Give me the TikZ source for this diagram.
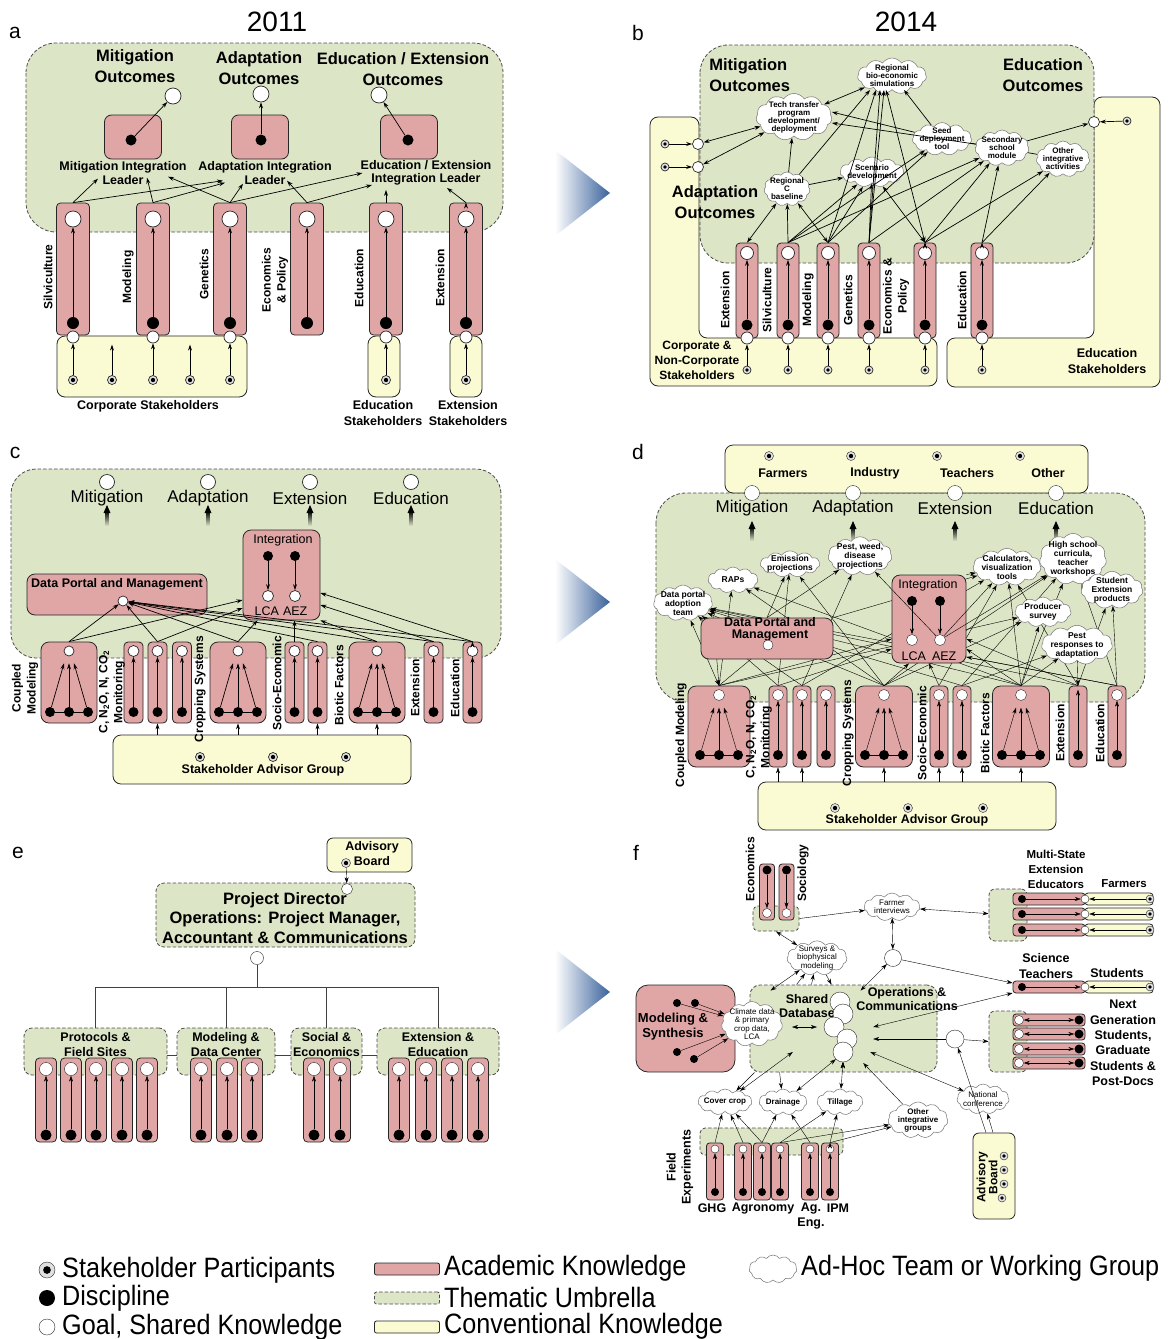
\documentclass[tikz,border=0pt]{standalone}
\usepackage{fontspec}
\setmainfont{Liberation Sans}
\newfontfamily\legfont[FakeStretch=0.9]{Liberation Sans}
\usetikzlibrary{arrows.meta, shapes.symbols, calc}
\pgfdeclarelayer{back}
\pgfdeclarelayer{mid}
\pgfsetlayers{back,mid,main}
\definecolor{acad}{RGB}{224,166,166}
\definecolor{umb}{RGB}{221,229,199}
\definecolor{conv}{RGB}{251,251,211}
\definecolor{chev}{RGB}{58,98,156}
\tikzset{> = {Stealth[length=6pt, width=4pt]}}
\tikzset{
  umbrella/.style={draw=black!70, dash pattern=on 3.5pt off 2pt, fill=umb, line width=0.8pt, inner sep=0, rounded corners=#1},
  umbrella/.default=8,
  academic/.style={draw=black!85, fill=acad, line width=0.8pt, inner sep=0, rounded corners=#1},
  academic/.default=4,
  convbox/.style={draw=black!85, fill=conv, line width=0.8pt, inner sep=0, rounded corners=#1},
  convbox/.default=8,
  goal/.style={circle, draw=black!85, fill=white, inner sep=0, minimum size=#1},
  goal/.default=15,
  disc/.style={circle, fill=black, inner sep=0, minimum size=#1},
  disc/.default=10,
  stake/.style={circle, draw=black!85, fill=black!12, inner sep=0, minimum size=#1,
    path picture={\fill[black] (path picture bounding box.center) circle[radius=0.24*#1pt];}},
  stake/.default=9,
  adhoc/.style={cloud, cloud puffs=11, cloud puff arc=110, cloud ignores aspect, draw=black!55, fill=white,
    line width=0.5pt, inner sep=-2pt, align=center, font=\fontsize{8}{8}\selectfont\bfseries},
  adhocr/.style={font=\fontsize{8}{8.3}\selectfont},
  adhocd/.style={font=\fontsize{8.5}{9}\selectfont\bfseries},
  plab/.style={inner sep=0, font=\fontsize{21}{24}\selectfont},
  year/.style={inner sep=0, font=\fontsize{28}{32}\selectfont},
  lblL/.style={inner sep=0, align=center, font=\fontsize{16.5}{20.5}\selectfont\bfseries},
  lblE/.style={inner sep=0, align=center, font=\fontsize{16.5}{19.5}\selectfont\bfseries},
  lblM/.style={inner sep=0, align=center, font=\fontsize{12.5}{13.5}\selectfont\bfseries},
  lblS/.style={inner sep=0, align=center, font=\fontsize{12}{15}\selectfont\bfseries},
  lblN/.style={inner sep=0, align=center, font=\fontsize{12.5}{15.4}\selectfont\bfseries},
  lblR/.style={inner sep=0, align=center, font=\fontsize{17}{20}\selectfont},
  lblI/.style={inner sep=0, align=center, font=\fontsize{12.5}{14}\selectfont},
  legtxt/.style={inner sep=0, anchor=west, font=\legfont\fontsize{28}{30}\selectfont},
}

\begin{document}
\begin{tikzpicture}[x=1pt, y=-1pt, line width=0.7pt]
\useasboundingbox (0,0) rectangle (1170,1339);

% panel letters
\node[plab] (la) at (15,33) {a};
\node[plab] (lb) at (638,33) {b};
\node[plab] (lc) at (15,453) {c};
\node[plab] (ld) at (638,452) {d};
\node[plab] (le) at (18,853) {e};
\node[plab] (lf) at (636,853) {f};
\node[year] (y11) at (277,22) {2011};
\node[year] (y14) at (906,22) {2014};

% ================= a: 2011
\draw[umbrella=30] (26,43) rectangle (503,232);
\node[convbox, minimum width=190, minimum height=61] (acs) at (152,366.5) {};
\node[convbox, minimum width=32, minimum height=61] (aes) at (384,366.5) {};
\node[convbox, minimum width=32, minimum height=61] (axs) at (466,366.5) {};
% outcomes and leaders
\node[lblL] (amt) at (135,66) {Mitigation\\Outcomes};
\node[lblL] (aat) at (259,68) {Adaptation\\Outcomes};
\node[lblL] (aet) at (403,69) {Education / Extension\\Outcomes};
\foreach \n/\x/\y/\bx/\dx in {m/173/96/133/131, a/261/94/260/261, e/379/95/409/408} {
  \node[goal=16] (ao\n) at (\x,\y) {};
  \node[academic=7, minimum width=57, minimum height=44] (ab\n) at (\bx,137) {};
  \node[disc=11] (ad\n) at (\dx,140) {};
  \draw[->] (ad\n) -- (ao\n);
}
\node[lblM] (alm) at (123,173) {Mitigation Integration\\Leader};
\node[lblM] (ala) at (265,173) {Adaptation Integration\\Leader};
\node[lblM] (ale) at (426,173) {Education / Extension\\Integration Leader};
% disciplines
\foreach \n/\x in {1/73,2/153,3/230,4/307,5/386,6/466} {
  \node[academic, minimum width=33, minimum height=132] (ac\n) at (\x,269) {};
  \node[goal=16] (act\n) at (\x,219) {};
  \node[disc=12] (acd\n) at (\x,323) {};
  \draw[->] (acd\n) -- (act\n);
}
\foreach \n/\x in {1/73,2/153,3/230,5/386,6/466} {
  \node[goal=12] (acb\n) at (\x,337) {};
  \node[stake] (as\n) at (\x,380) {};
  \draw[->] (as\n) -- (acb\n);
}
\foreach \n/\x in {7/112,8/190} {
  \node[stake] (as\n) at (\x,380) {};
  \draw[->] (as\n) -- ($(as\n |- acs.north)+(0,9)$);
}
\node[lblS, rotate=90] at (48,277) {Silviculture};
\node[lblS, rotate=90] at (128,277) {Modeling};
\node[lblS, rotate=90] at (204,274) {Genetics};
\node[lblS, rotate=90] at (275,280) {Economics\\\& Policy};
\node[lblS, rotate=90] at (359,278) {Education};
\node[lblS, rotate=90] at (440,278) {Extension};
\node[lblM] at (148,406) {Corporate Stakeholders};
\node[lblN] at (383,413) {Education\\Stakeholders};
\node[lblN] at (468,413) {Extension\\Stakeholders};
% edges
\draw[->]
(ac1.north) edge ([xshift=-25pt,yshift=6pt]alm.south)
(ac1.north) edge ([xshift=-42pt,yshift=4pt]ala.south)
(ac2.north) edge ([xshift=24pt,yshift=7pt]alm.south)
(ac2.north) edge ([xshift=-40pt,yshift=2pt]ala.south)
(ac3.north) edge ([xshift=45pt,yshift=8pt]alm.south)
(ac3.north) edge ([xshift=-22pt,yshift=1pt]ala.south)
(ac3.north) edge ([xshift=2pt]ale.west)
(ac4.north) edge ([xshift=22pt,yshift=4pt]ala.south)
(ac4.north) edge ([xshift=-54pt,yshift=1pt]ale.south)
(ac5.north) edge ([xshift=-40pt,yshift=-4pt]ale.south)
(ac6.north) edge ([xshift=21pt,yshift=-2pt]ale.south);

% ================= b: 2014
\draw[convbox] (699,338) -- (699,117) -- (650,117) -- (650,386) -- (937,386) -- (937,338) -- cycle;
\draw[convbox] (1094,338) -- (947,338) -- (947,387) -- (1160,387) -- (1160,97) -- (1094,97) -- cycle;
\draw[umbrella=28] (700,45) rectangle (1094,263);
\node[lblL, align=left, anchor=west] (bmt) at (709,75) {Mitigation\\Outcomes};
\node[lblL] (bat) at (715,202) {Adaptation\\Outcomes};
\node[lblL] (bet) at (1043,75) {Education\\Outcomes};
\foreach \n/\y in {1/144,2/167} {
  \node[goal=11] (bin\n) at (698,\y) {};
  \node[stake=8] (bis\n) at (665,\y) {};
  \draw[->] (bis\n) -- (bin\n);
}
\node[goal=11] (bin3) at (1094,122) {};
\node[stake=8] (bis3) at (1127,121) {};
\draw[->] (bis3) -- (bin3);
% working groups
\node[adhoc, minimum width=66, minimum height=36] (bbio) at (892,76) {Regional\\bio-economic\\simulations};
\node[adhoc, minimum width=76, minimum height=42] (btech) at (794,117) {Tech transfer\\program\\development/\\deployment};
\node[adhoc, minimum width=46, minimum height=34] (bcb) at (787,189) {Regional\\C\\baseline};
\node[adhoc, minimum width=58, minimum height=30] (bscen) at (872,172) {Scenario\\development};
\node[adhoc, minimum width=52, minimum height=30] (bseed) at (942,139) {Seed\\deployment\\tool};
\node[adhoc, minimum width=54, minimum height=36] (bsec) at (1002,148) {Secondary\\school\\module};
\node[adhoc, minimum width=52, minimum height=36] (both) at (1063,159) {Other\\integrative\\activities};
% disciplines
\foreach \n/\x in {1/747,2/788,3/828,4/869,5/925,6/982} {
  \node[academic, minimum width=22, minimum height=95] (bc\n) at (\x,290.5) {};
  \node[goal=13] (bct\n) at (\x,253) {};
  \node[disc=11] (bcd\n) at (\x,325) {};
  \node[goal=12] (bcb\n) at (\x,338) {};
  \node[stake=8] (bs\n) at (\x,370) {};
  \draw[->] (bcd\n) -- (bct\n);
  \draw[->] (bs\n) -- (bcb\n);
}
\node[lblS, rotate=90] at (725,300) {Extension};
\node[lblS, rotate=90] at (767,300) {Silviculture};
\node[lblS, rotate=90] at (808,300) {Modeling};
\node[lblS, rotate=90] at (848,300) {Genetics};
\node[lblS, rotate=90] at (896,296) {Economics \&\\Policy};
\node[lblS, rotate=90] at (962,300) {Education};
\node[lblS] at (697,360) {Corporate \&\\Non-Corporate\\Stakeholders};
\node[lblN] at (1107,361) {Education\\Stakeholders};
% edges
\draw[<->]
(bin1) edge (btech)
(bin2) edge (btech)
(btech) edge (bbio)
(bc1.north) edge (bcb)
(bc3.north) edge (bcb)
(bc5.north) edge (bscen)
(bc5.north) edge ([xshift=-6pt]bbio.south);
\draw[->]
(bcb) edge (btech)
(bcb) edge (bscen)
(bcb) edge ([xshift=-22pt]bbio.south)
(bc2.north) edge (bcb)
(bc2.north) edge (bscen)
(bc2.north) edge (bseed)
(bc2.north) edge (bsec)
(bc3.north) edge ([xshift=-16pt]bbio.south)
(bc3.north) edge (bscen)
(bc3.north) edge (bseed)
(bc4.north) edge ([xshift=-12pt]bbio.south)
(bc4.north) edge ([xshift=-8pt]bbio.south)
(bc4.north) edge (bscen)
(bc4.north) edge (bsec)
(bc5.north) edge (bsec)
(bc5.north) edge (both)
(bc6.north) edge (bsec)
(bc6.north) edge (both)
(bseed) edge ([xshift=12pt]bbio.south)
(bseed) edge ([yshift=5pt]btech.east)
(bsec) edge ([yshift=-6pt]btech.east)
(bsec) edge (bin3);
\draw (bseed) -- (bsec) (bsec) -- (both);

% ================= c
\draw[umbrella=25] (11,469) rectangle (501,658);
\foreach \n/\x/\t in {1/107/Mitigation, 2/208/Adaptation, 3/310/Extension, 4/411/Education} {
  \node[goal=15] (cg\n) at (\x,482) {};
  \node[lblR] (cgl\n) at (\x,498) {\t};
  \shade[top color=black, bottom color=umb] (\x-1.5,511) rectangle (\x+1.5,526);
  \fill (\x-3.5,513) -- (\x,505) -- (\x+3.5,513) -- cycle;
}
\node[academic=8, minimum width=77, minimum height=90] (cint) at (281.5,575) {};
\node[lblI] (cintl) at (283,540) {Integration};
\foreach \n/\x in {1/268,2/295} {
  \node[disc] (cid\n) at (\x,556) {};
  \node[goal=11] (cic\n) at (\x,596) {};
  \draw[->] (cid\n) -- (cic\n);
}
\node[lblI] (cil) at (281,611) {LCA\hspace{4pt}AEZ};
\node[academic=8, minimum width=180, minimum height=41] (cdp) at (117,594.5) {};
\node[lblM] (cdpl) at (117,584) {Data Portal and Management};
\node[goal=10] (cdpc) at (123,601) {};
\node[convbox, minimum width=298, minimum height=49] (csag) at (262,759.5) {};
\foreach \n/\x in {1/200,2/273,3/346} \node[stake] (csd\n) at (\x,757) {};
\node[lblM] (csagl) at (263,770) {Stakeholder Advisor Group};
% disciplines
\foreach \n/\x in {1/69,5/238,8/377} {
  \node[academic=8, minimum width=56, minimum height=81] (cc\n) at (\x,682.5) {};
  \node[goal=10] (cct\n) at (\x,651) {};
  \node[disc] (ccl\n) at (\x-19,712) {};
  \node[disc] (ccm\n) at (\x,712) {};
  \node[disc] (ccr\n) at (\x+19,712) {};
  \draw (ccl\n) -- (ccr\n);
  \draw[->] (ccl\n) -- ([xshift=-5pt,yshift=-7pt]cct\n.south);
  \draw[->] (ccm\n) -- ([yshift=-7pt]cct\n.south);
  \draw[->] (ccr\n) -- ([xshift=5pt,yshift=-7pt]cct\n.south);
}
\foreach \n/\x in {2/133.5,3/157.5,4/182,6/294.5,7/317.5,9/433.5,10/472.5} {
  \node[academic, minimum width=19, minimum height=81] (cc\n) at (\x,682.5) {};
  \node[goal=11] (cct\n) at (\x,651) {};
  \node[disc] (ccd\n) at (\x,712) {};
  \draw[->] (ccd\n) -- (cct\n);
}
\node[lblS, rotate=90] at (25,688) {Coupled\\Modeling};
\node[lblS, rotate=90] at (112,692) {C, N\textsubscript{2}O, N, CO\textsubscript{2}\\Monitoring};
\node[lblS, rotate=90] at (200,689) {Cropping Systems};
\node[lblS, rotate=90] at (277,683) {Socio-Economic};
\node[lblS, rotate=90] at (339,685) {Biotic Factors};
\node[lblS, rotate=90] at (415,688) {Extension};
\node[lblS, rotate=90] at (455,688) {Education};
\foreach \n in {3,5,7,8} \draw[->] (csag.north -| cc\n.south) -- (cc\n.south);
% edges
\draw[->]
(cc1.north) edge (cdpc)
(cc1.north) edge ([yshift=-25pt]cint.west)
(cc3.north) edge (cdpc)
(cc3.north) edge ([yshift=-33pt]cint.west)
(cc5.north) edge (cdpc)
(cc5.north) edge ([xshift=-24pt]cint.south)
(cc6.north) edge ([xshift=13pt]cint.south)
(cc7.north) edge (cdpc)
(cc8.north) edge (cdpc)
(cc8.north) edge (cint.south east)
(cc9.north) edge (cdpc)
(cc9.north) edge ([yshift=-30pt]cint.east)
(cc10.north) edge (cdpc)
(cc10.north) edge ([yshift=-18pt]cint.east);

% ================= d
\begin{pgfonlayer}{back}
\draw[umbrella=30] (656,493) rectangle (1145,702);
\end{pgfonlayer}
\node[convbox, minimum width=363, minimum height=48] (dtop) at (906.5,469) {};
\foreach \n/\x/\sx/\lx/\s/\t in {1/752/769/783/Farmers/Mitigation, 2/853/851/875/Industry/Adaptation, 3/955/937/967/Teachers/Extension, 4/1056/1020/1048/Other/Education} {
  \node[stake] (dsk\n) at (\sx,456) {};
  \node[lblM] (dskl\n) at (\lx,473) {\s};
  \node[goal=15] (dg\n) at (\x,493) {};
  \node[lblR] (dgl\n) at (\x,508) {\t};
  \shade[top color=black, bottom color=umb] (\x-1.5,527) rectangle (\x+1.5,541);
  \fill (\x-3.5,529) -- (\x,521) -- (\x+3.5,529) -- cycle;
}
\node[academic=8, minimum width=74, minimum height=88] (dint) at (929,619) {};
\node[lblI] (dintl) at (928,585) {Integration};
\foreach \n/\x in {1/912,2/940} {
  \node[disc] (did\n) at (\x,601) {};
  \node[goal=11] (dic\n) at (\x,640) {};
  \draw[->] (did\n) -- (dic\n);
}
\node[lblI] (dil) at (929,656) {LCA\hspace{6pt}AEZ};
\node[academic=8, minimum width=132, minimum height=41] (ddp) at (767,638.5) {};
\node[lblM, font=\fontsize{12.5}{12}\selectfont\bfseries] (ddpl) at (770,629) {Data Portal and\\Management};
\node[goal=10] (ddpc) at (768,645) {};
% working groups
\node[adhoc, adhocd, minimum width=54, minimum height=30] (dcdp) at (683,603) {Data portal\\adoption\\team};
\node[adhoc, adhocd, minimum width=50, minimum height=26] (draps) at (733,580) {RAPs};
\node[adhoc, adhocd, minimum width=52, minimum height=26] (demis) at (790,564) {Emission\\projections};
\node[adhoc, adhocd, minimum width=64, minimum height=38] (dpest) at (860,556) {Pest, weed,\\disease\\projections};
\node[adhoc, adhocd, minimum width=60, minimum height=36] (dcalc) at (1007,567) {Calculators,\\visualization\\tools};
\node[adhoc, adhocd, minimum width=52, minimum height=40] (dhs) at (1073,559) {High school\\curricula,\\teacher\\workshops};
\node[adhoc, adhocd, minimum width=62, minimum height=30] (dsep) at (1112,590) {Student\\Extension\\products};
\node[adhoc, adhocd, minimum width=56, minimum height=30] (dprod) at (1043,612) {Producer\\survey};
\node[adhoc, adhocd, minimum width=54, minimum height=30] (dpresp) at (1077,645) {Pest\\responses to\\adaptation};
\node[convbox, minimum width=298, minimum height=48] (dsag) at (907,806) {};
\foreach \n/\x in {1/835,2/908,3/983} \node[stake] (dsd\n) at (\x,808) {};
\node[lblM] (dsagl) at (907,820) {Stakeholder Advisor Group};
% disciplines
\foreach \n/\x/\w in {1/719/62,5/884/57,8/1021/57} {
  \node[academic=8, minimum width=\w, minimum height=81] (dc\n) at (\x,726.5) {};
  \node[goal=11] (dct\n) at (\x,695) {};
  \node[disc] (dcl\n) at (\x-19,755) {};
  \node[disc] (dcm\n) at (\x,755) {};
  \node[disc] (dcr\n) at (\x+19,755) {};
  \draw (dcl\n) -- (dcr\n);
  \draw[->] (dcl\n) -- ([xshift=-5pt,yshift=-7pt]dct\n.south);
  \draw[->] (dcm\n) -- ([yshift=-7pt]dct\n.south);
  \draw[->] (dcr\n) -- ([xshift=5pt,yshift=-7pt]dct\n.south);
}
\foreach \n/\x in {2/778,3/802,4/826,6/939,7/962,9/1078,10/1117} {
  \node[academic, minimum width=18, minimum height=81] (dc\n) at (\x,726.5) {};
  \node[disc] (dcd\n) at (\x,755) {};
}
\foreach \n/\x in {2/778,3/802,4/826,6/939,7/962,10/1117} {
  \node[goal=11] (dct\n) at (\x,695) {};
  \draw[->] (dcd\n) -- (dct\n);
}
\draw[->] (dcd9) -- ([yshift=-4pt]dc9.north);
\node[lblS, rotate=90] at (681,735) {Coupled Modeling};
\node[lblS, rotate=90] at (759,737) {C, N\textsubscript{2}O, N, CO\textsubscript{2}\\Monitoring};
\node[lblS, rotate=90] at (848,733) {Cropping Systems};
\node[lblS, rotate=90] at (922,733) {Socio-Economic};
\node[lblS, rotate=90] at (985,733) {Biotic Factors};
\node[lblS, rotate=90] at (1060,733) {Extension};
\node[lblS, rotate=90] at (1100,733) {Education};
\foreach \n in {2,3,5,6,7,8} \draw[->] (dsag.north -| dc\n.south) -- (dc\n.south);
% edges
\begin{pgfonlayer}{mid}
\draw[<->]
(dc1.north) edge (dcdp)
(dc1.north) edge ([yshift=-6pt]dcdp.east);
\draw[->]
(dc1.north) edge (ddpc)
(dc1.north) edge (draps)
(dc1.north) edge ([yshift=-20pt]dint.west)
(dc1.north) edge (dprod)
(dc2.north) edge (dcdp)
(dc2.north) edge (demis)
(dc2.north) edge ([yshift=-30pt]dint.west)
(dc3.north) edge (dpest)
(dc3.north) edge (dcdp)
(dc3.north) edge (dcalc)
(dc5.north) edge (draps)
(dc5.north) edge (demis)
(dc5.north) edge ([xshift=-20pt]dint.south)
(dc5.north) edge (dhs)
(dc5.north) edge (dprod)
(dc5.north) edge (dcdp)
(dc6.north) edge (dint.south)
(dc6.north) edge (dcalc)
(dc7.north) edge (dcdp)
(dc7.north) edge (dhs)
(dc7.north) edge (dpresp)
(dc8.north) edge ([yshift=-30pt]dint.east)
(dc8.north) edge (dcalc)
(dc8.north) edge (dhs)
(dc8.north) edge (dprod)
(dc8.north) edge (dpresp)
(dc8.north) edge (draps)
(dc8.north) edge (dcdp)
(dc9.north) edge (dcdp)
(dc9.north) edge ([yshift=-20pt]dint.east)
(dc9.north) edge (dsep)
(dc9.north) edge (dcalc)
(dc10.north) edge (dsep)
(dc10.north) edge (dhs)
(dc10.north) edge ([yshift=-38pt]dint.east)
(dc10.north) edge (dcdp)
(dint.north east) edge (dcalc)
(ddp.north east) edge (dcalc)
(ddp.north) edge (demis)
(ddp.north) edge (dpest)
(dpresp) edge (dc9.north);
\end{pgfonlayer}
\draw[->]
(dic2) edge (dpest)
(dic2) edge (dcalc)
(dic2) edge (dhs);

% ================= e
\node[convbox=6, minimum width=85, minimum height=34] (eadv) at (369.5,855) {};
\node[lblN, font=\fontsize{12.5}{15}\selectfont\bfseries] (eadvl) at (372,853.5) {Advisory\\Board};
\node[stake] (esd) at (346,863) {};
\node[umbrella, minimum width=259, minimum height=64] (epd) at (285.5,915) {};
\node[lblE] (epdl) at (285,918) {Project Director\\Operations: Project Manager,\\Accountant \& Communications};
\node[goal=11] (epdt) at (347,889) {};
\draw[->] (esd) -- (epdt);
\node[goal=13] (epdc) at (257,958) {};
\coordinate (ehub) at (257,987);
\foreach \n/\x/\w/\t in {1/95.5/143/{Protocols \&\\Field Sites}, 2/226/98/{Modeling \&\\Data Center}, 3/326.5/71/{Social \&\\Economics}, 4/438/122/{Extension \&\\Education}} {
  \node[umbrella, minimum width=\w, minimum height=47] (eg\n) at (\x,1051.5) {};
  \node[lblM, font=\fontsize{12.5}{15}\selectfont\bfseries] (egl\n) at (\x,1044.5) {\t};
}
\draw[black!75] (epdc) -- (ehub);
\foreach \n in {1,...,4} \draw[black!75] (ehub) -| (eg\n.north);
\draw[black!75] ([yshift=-3.5pt]eg1.east) -- ([yshift=-3.5pt]eg2.west)
  ([yshift=-3.5pt]eg2.east) -- ([yshift=-3.5pt]eg3.west)
  ([yshift=-3.5pt]eg3.east) -- ([yshift=-3.5pt]eg4.west);
\foreach \n/\x in {1/46,2/71,3/96,4/122,5/147,6/201,7/227,8/252,9/314,10/340,11/399,12/426,13/452,14/478} {
  \node[academic, minimum width=21, minimum height=84] (ec\n) at (\x,1100) {};
  \node[goal=13] (ect\n) at (\x,1069) {};
  \node[disc=11] (ecd\n) at (\x,1135) {};
  \draw[->] (ecd\n) -- (ect\n);
}

% ================= f
\node[umbrella=5, minimum width=46, minimum height=25] (fes) at (776,918.5) {};
\foreach \n/\x in {1/767,2/786.5} {
  \node[academic=3, minimum width=15, minimum height=56] (fe\n) at (\x,892) {};
  \node[disc=9] (fed\n) at (\x,870) {};
  \node[goal=9] (fec\n) at (\x,913) {};
  \draw[->] (fed\n) -- (fec\n);
}
\node[lblS, rotate=90] at (750,869) {Economics};
\node[lblS, rotate=90] at (803,873) {Sociology};
\node[adhoc, adhocr, minimum width=56, minimum height=28] (ffi) at (892,907) {Farmer\\interviews};
% extension rows
\node[umbrella=6, minimum width=38, minimum height=52] (fmsg) at (1008,915) {};
\foreach \n/\y in {1/899,2/914,3/930} {
  \node[convbox=3, minimum width=68, minimum height=12] (fmy\n) at (1119,\y) {};
  \node[academic=3, minimum width=72, minimum height=12] (fmp\n) at (1049,\y) {};
  \node[disc=8] (fmd\n) at (1022,\y) {};
  \node[goal=8] (fmc\n) at (1085,\y) {};
  \node[stake=8] (fms\n) at (1150,\y) {};
  \draw[->] (fmd\n) -- (fmc\n);
  \draw[->] (fms\n) -- (fmc\n);
}
\node[lblS, font=\fontsize{11.5}{15}\selectfont\bfseries] at (1056,869) {Multi-State\\Extension\\Educators};
\node[lblS, font=\fontsize{11.5}{15}\selectfont\bfseries] at (1124,884) {Farmers};
% teachers row
\node[convbox=3, minimum width=68, minimum height=12] (fsy) at (1119,987) {};
\node[academic=3, minimum width=72, minimum height=12] (fsp) at (1049,987) {};
\node[disc=8] (fsd) at (1022,987) {};
\node[goal=8] (fsc) at (1085,987) {};
\node[stake=8] (fss) at (1150,987) {};
\draw[->] (fsd) -- (fsc);
\draw[->] (fss) -- (fsc);
\node[lblN] at (1046,966) {Science\\Teachers};
\node[lblN] at (1117,973) {Students};
% next generation rows
\node[umbrella=6, minimum width=38, minimum height=61] (fng) at (1008,1041.5) {};
\foreach \n/\y in {1/1020,2/1034,3/1049,4/1063} {
  \node[academic=3, minimum width=72, minimum height=12] (fnp\n) at (1049,\y) {};
  \node[goal=9] (fnc\n) at (1019,\y) {};
  \node[disc=9] (fnd\n) at (1079,\y) {};
  \draw[<->] (fnc\n) -- (fnd\n);
}
\node[lblN] at (1123,1043) {Next\\Generation\\Students,\\Graduate\\Students \&\\Post-Docs};
% shared database
\node[academic=12, minimum width=99, minimum height=87] (fms) at (685.5,1028.5) {};
\node[lblM, font=\fontsize{13}{15}\selectfont\bfseries] (fmsl) at (673,1027) {Modeling \&\\Synthesis};
\node[umbrella=10, minimum width=187, minimum height=87] (fdb) at (843.5,1028.5) {};
\node[lblM] (fdbl) at (807,1006) {Shared\\Database};
\node[lblM] (fopl) at (907,999) {Operations \&\\Communications};
\foreach \n/\x/\y in {1/840/1002, 2/843/1014, 3/834/1027, 4/847/1039, 5/843/1052} \node[goal=20] (fdc\n) at (\x,\y) {};
\node[adhoc, adhocr, minimum width=56, minimum height=40] (fcl) at (752,1024) {Climate data\\\& primary\\crop data,\\LCA};
\foreach \n/\x/\y in {1/677/1003, 2/695/1003, 3/677/1052, 4/694/1059} {
  \node[disc=8] (fmd\n) at (\x,\y) {};
  \draw[->] (fmd\n) -- (fcl);
}
\coordinate (fdbl1) at (792,1027);
\coordinate (fdbr1) at (817,1027);
\draw[<->] (fdbl1) -- (fdbr1);
\node[goal=17] (fops) at (893,958) {};
\node[goal=18] (fngc) at (955,1039) {};
\node[adhoc, adhocr, minimum width=60, minimum height=30] (fsv) at (817,958) {Surveys \&\\biophysical\\modeling};
% bottom groups
\node[adhoc, minimum width=54, minimum height=26] (fcov) at (725,1102) {Cover crop};
\node[adhoc, minimum width=48, minimum height=26] (fdra) at (783,1102) {Drainage};
\node[adhoc, minimum width=46, minimum height=26] (ftil) at (840,1102) {Tillage};
\node[adhoc, minimum width=60, minimum height=36] (foth) at (918,1120) {Other\\integrative\\groups};
\node[adhoc, adhocr, minimum width=52, minimum height=30] (fnat) at (983,1099) {National\\conference};
\node[convbox=6, minimum width=42, minimum height=86] (fadv) at (994,1176) {};
\node[lblS, rotate=90, font=\fontsize{12}{12}\selectfont\bfseries] at (987,1177) {Advisory\\Board};
\foreach \n/\x/\y in {1/1004/1156, 2/1004/1170, 3/1004/1184, 4/1002/1198} \node[stake=8] (fad\n) at (\x,\y) {};
% field experiments
\node[umbrella=5, minimum width=143, minimum height=27] (ffx) at (771.5,1141.5) {};
\foreach \n/\x in {1/715,2/743,3/762,4/780,5/810,6/830} {
  \node[academic=3, minimum width=17, minimum height=57] (ff\n) at (\x,1171.5) {};
  \node[goal=8] (ffc\n) at (\x,1149) {};
  \node[disc=8] (ffd\n) at (\x,1192) {};
  \draw[->] (ffd\n) -- (ffc\n);
}
\node[lblS, rotate=90, font=\fontsize{12.5}{15}\selectfont\bfseries] at (680,1167) {Field\\Experiments};
\node[lblM] at (712,1208) {GHG};
\node[lblM] at (763,1209) {Agronomy};
\node[lblN] at (811,1216) {Ag.\\Eng.};
\node[lblM] at (838,1208) {IPM};
% edges
\draw[<->]
(ffi) edge (fops)
(ffi) edge (fmsg)
(fes.south) edge (fsv)
(fsv) edge ([xshift=-73pt,yshift=-6pt]fdb.north)
(fops) edge ([xshift=17pt,yshift=-6pt]fdb.north)
([yshift=-6pt]fsp.west) edge ([xshift=29pt]fdc3.east)
(fnat) edge ([xshift=17pt]fdc5.east)
([xshift=-40pt]fdc5.west) edge (fcov)
(fdc5.south west) edge (fdra)
(fdc5.south) edge (ftil);
\draw[->]
(fes.east) edge (ffi)
(fops) edge ([yshift=4pt]fsp.west)
([xshift=-47pt]fdb.north) edge (fsv)
([xshift=-32pt]fdb.north) edge (fsv)
(fsv) edge ([xshift=-12pt]fdb.north)
(fngc) edge ([xshift=16pt]fdc4.east)
(fngc) edge (fng.west)
([xshift=-1pt]fadv.north) edge (fnat)
([xshift=-8pt]fadv.north) edge (fngc)
(foth) edge ([xshift=10pt,yshift=-11pt]fdc5.east)
([xshift=5pt]fdb.south west) edge (fcov)
([xshift=30pt]fdb.south west) edge (fdra)
(ff1.north) edge (fcov)
(ff2.north) edge (fcov)
(ff3.north) edge (fcov)
(ff3.north) edge (fdra)
(ff4.north) edge (ftil)
(ff4.north) edge (foth)
(ff5.north) edge (fdra)
(ff6.north) edge (ftil)
(ff6.north) edge (foth);

% ================= chevrons between panels
\foreach \y in {193,602,992}
  \shade[left color=white, right color=chev] (555,\y-43) -- (610,\y) -- (555,\y+43) -- cycle;

% ================= legend
\node[stake=16] (lgs) at (47,1270) {};
\node[legtxt] (lgst) at (62,1270) {Stakeholder Participants};
\node[disc=16] (lgd) at (47,1298) {};
\node[legtxt] (lgdt) at (62,1298) {Discipline};
\node[goal=16] (lgg) at (47,1327) {};
\node[legtxt] (lggt) at (62,1327) {Goal, Shared Knowledge};
\node[academic=2, minimum width=65, minimum height=12] (lga) at (407,1269) {};
\node[legtxt] (lgat) at (444,1268) {Academic Knowledge};
\node[umbrella=2, minimum width=65, minimum height=12] (lgu) at (407,1298) {};
\node[legtxt] (lgut) at (444,1297) {Thematic Umbrella};
\node[convbox=2, minimum width=65, minimum height=12] (lgc) at (407,1327) {};
\node[legtxt] (lgct) at (444,1326) {Conventional Knowledge};
\node[adhoc, minimum width=48, minimum height=28] (lgh) at (773,1269) {};
\node[legtxt] (lght) at (801,1268) {Ad-Hoc Team or Working Group};

\end{tikzpicture}
\end{document}
